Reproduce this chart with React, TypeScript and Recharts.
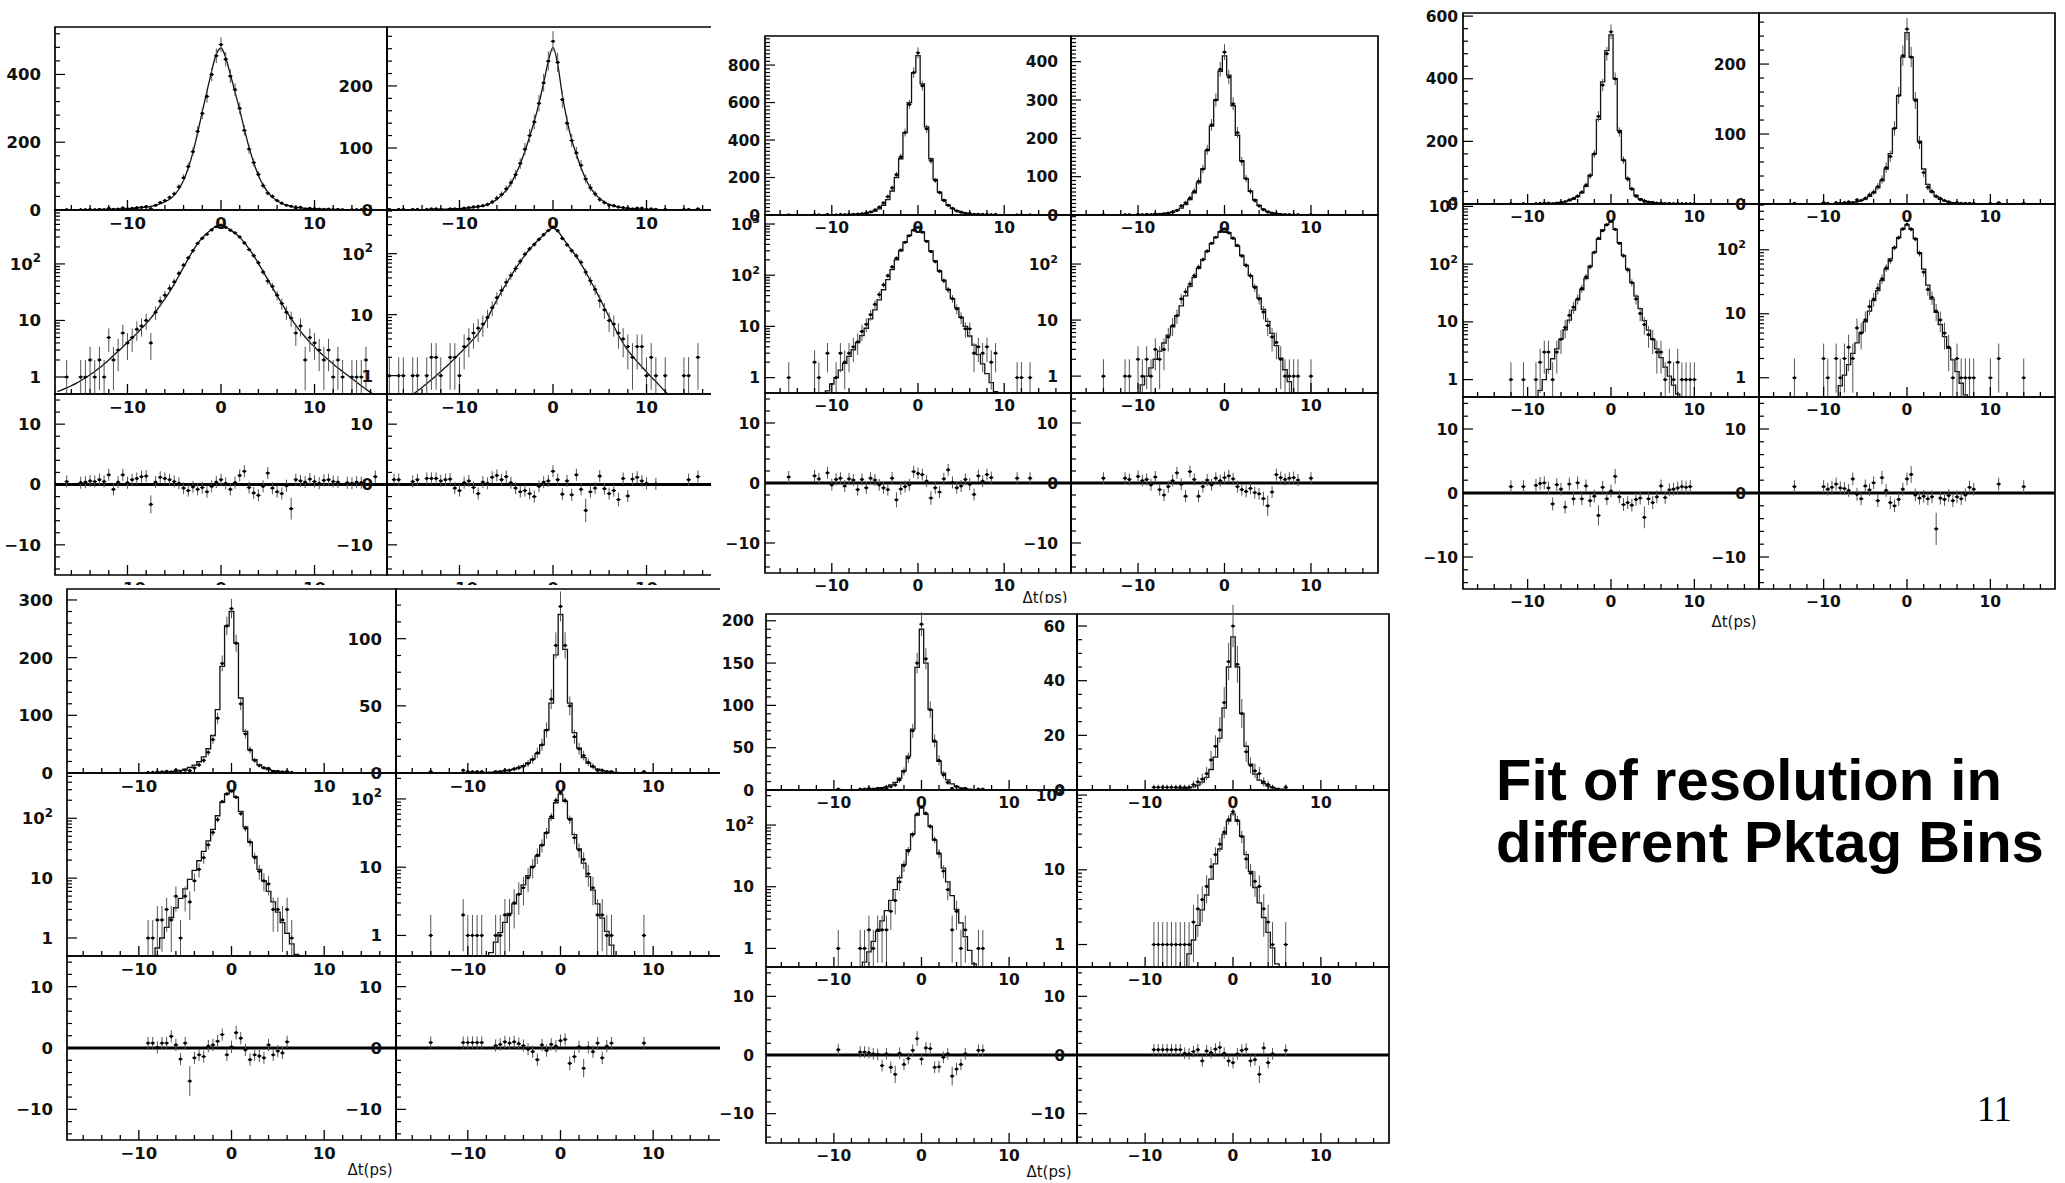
import React from 'react';
import { ComposedChart, Line, Scatter, XAxis, YAxis, ErrorBar, ReferenceLine, ReferenceArea } from 'recharts';

// ---------- bin centres (Δt, ps) ----------
const dtBins = [
  -17.5, -17, -16.5, -16, -15.5, -15, -14.5, -14, -13.5, -13,
  -12.5, -12, -11.5, -11, -10.5, -10, -9.5, -9, -8.5, -8,
  -7.5, -7, -6.5, -6, -5.5, -5, -4.5, -4, -3.5, -3,
  -2.5, -2, -1.5, -1, -0.5, 0, 0.5, 1, 1.5, 2,
  2.5, 3, 3.5, 4, 4.5, 5, 5.5, 6, 6.5, 7,
  7.5, 8, 8.5, 9, 9.5, 10, 10.5, 11, 11.5, 12,
  12.5, 13, 13.5, 14, 14.5, 15, 15.5, 16, 16.5, 17,
  17.5,
];

// ---------- group A ----------
const countsA1 = [
  0, 0, 1, 0, 0, 1, 1, 2, 1, 2,
  1, 5, 2, 3, 6, 4, 5, 7, 8, 10,
  4, 14, 22, 28, 37, 48, 68, 95, 128, 172,
  232, 285, 335, 400, 455, 488, 445, 395, 355, 300,
  235, 180, 140, 105, 72, 50, 40, 28, 20, 14,
  11, 6, 8, 2, 5, 4, 3, 2, 3, 1,
  2, 1, 0, 1, 1, 1, 2, 0, 0, 0,
  0,
];
const fitA1 = [
  0.55, 0.59, 0.64, 0.7, 0.77, 0.86, 0.97, 1.1, 1.25, 1.45,
  1.7, 2.0, 2.4, 2.85, 3.4, 4.1, 4.9, 5.9, 7.2, 8.8,
  11, 14, 18.5, 24, 32, 44, 62, 88, 124, 170,
  228, 290, 350, 410, 460, 478, 450, 400, 348, 295,
  238, 185, 140, 102, 74, 53, 38, 27.5, 20, 14.5,
  10.8, 8.2, 6.4, 5.1, 4.1, 3.4, 2.8, 2.35, 2.0, 1.7,
  1.45, 1.25, 1.08, 0.93, 0.81, 0.7, 0.61, 0.53, 0.46, 0.4,
  0.35,
];
const residA1 = [
  0, 0, 0.5, 0, 0, 0.3, 0.4, 0.6, 0.5, 0.8,
  0.5, 1.6, -0.8, 0.4, 1.6, 0.3, 0.8, 1.0, 1.3, 1.4,
  -3.3, 0.4, 1.2, 1.0, 0.8, 0.5, 0.2, -0.6, -1.0, -0.4,
  -0.8, -0.5, -1.2, -0.3, 0.4, 0.8, 0.2, -0.8, 0.3, 1.5,
  2.2, -0.5, -1.4, -1.8, -0.3, 1.9, -0.6, -1.2, -1.5, -0.2,
  -4.0, 0.8, 0.6, 0.4, 0.9, 0.5, 0.2, 0.7, 0.8, 0.5,
  0.4, 0, 0.3, 0.2, 0.4, 0.3, 0, 0, 1.3, 0,
  0,
];
const countsA2 = [
  1, 0, 1, 1, 0, 1, 1, 0, 1, 2,
  2, 1, 0, 2, 2, 1, 3, 4, 5, 6,
  7, 9, 13, 19, 25, 34, 44, 57, 75, 98,
  120, 142, 172, 205, 240, 272, 238, 178, 140, 112,
  92, 72, 50, 36, 26, 17, 12, 8, 7, 5,
  4, 3, 2, 3, 3, 1, 2, 1, 0, 1,
  0, 0, 0, 1, 1, 0, 2, 0, 0, 0,
  0,
];
const fitA2 = [
  0.25, 0.29, 0.33, 0.38, 0.43, 0.49, 0.56, 0.64, 0.74, 0.86,
  1.0, 1.17, 1.37, 1.62, 1.92, 2.3, 2.75, 3.3, 4.0, 4.9,
  6.5, 8.8, 12.5, 17.5, 24, 32, 43, 57, 74, 95,
  118, 143, 172, 205, 240, 262, 235, 185, 145, 113,
  90, 68, 50, 36, 26, 18.5, 13, 9.2, 6.5, 4.6,
  3.4, 2.6, 2.1, 1.7, 1.4, 1.15, 0.95, 0.8, 0.66, 0.55,
  0.46, 0.38, 0.32, 0.27, 0.23, 0.19, 0.16, 0.13, 0.11, 0.09,
  0.08,
];
const residA2 = [
  0, 0.8, 0.8, 0, 0, 0.5, 0.8, 0, 1.0, 1.0,
  1.0, 0.6, 0.8, 0.9, -0.6, -1.0, 0.3, 0.6, -0.5, -1.5,
  0.4, 0.2, 1.2, 1.5, 0.8, 1.3, 0.3, -0.6, -1.2, -1.0,
  -1.5, -2.0, -0.3, 0.4, 0.6, 2.2, 0.8, -1.6, 0.6, -1.7,
  1.6, -0.8, -4.3, -1.2, -0.6, 1.4, -0.7, -1.5, -1.0, -2.5,
  1.0, -1.9, 0.9, 1.2, 0.6, 0.2, 0, 0.1, 0, 0,
  0, 0, 0, 0, 0.8, 0, 1.3, 0, 0, 0,
  0,
];

// ---------- group B ----------
const countsB1 = [
  0, 0, 0, 0, 0, 1, 0, 0, 0, 0,
  0, 2, 1, 0, 3, 0, 1, 3, 2, 3,
  4, 5, 8, 11, 17, 27, 42, 65, 98, 145,
  215, 310, 440, 590, 760, 865, 690, 460, 290, 185,
  120, 78, 52, 35, 22, 15, 9, 9, 3, 4,
  3, 4, 2, 3, 0, 0, 0, 0, 1, 1,
  0, 1, 0, 0, 0, 0, 0, 0, 0, 0,
  0,
];
const fitB1 = [
  0.01, 0.01, 0.02, 0.02, 0.03, 0.04, 0.05, 0.07, 0.09, 0.12,
  0.16, 0.22, 0.3, 0.4, 0.55, 0.75, 1.0, 1.4, 1.9, 2.6,
  3.5, 4.8, 6.6, 9.2, 14, 21, 33, 52, 82, 128,
  200, 300, 440, 600, 760, 850, 700, 470, 300, 190,
  122, 80, 53, 35, 23, 15, 10, 6.5, 4.3, 2.8,
  1.85, 1.2, 0.8, 0.53, 0.35, 0.23, 0.15, 0.1, 0.07, 0.05,
  0.03, 0.02, 0.015, 0.01, 0.01, 0.01, 0.01, 0.01, 0.01, 0.01,
  0.01,
];
const residB1 = [
  0, 0, 0, 0, 0, 1.0, 0, 0, 0, 0,
  0, 1.2, 0.7, 0, 1.7, -0.3, 0.6, 0.8, -0.5, 0.7,
  0.5, -1.1, 0.6, -0.8, 0.8, 0.5, -0.3, -0.8, -1.1, 0.8,
  -2.8, -1.0, -0.6, -0.3, 1.9, 1.6, 1.4, 0.3, -2.5, -0.8,
  -1.5, 0.7, 2.2, 0.1, -0.8, -0.5, 0.6, -0.2, -1.9, 1.2,
  0.3, 1.4, 0.9, 0, 0, 0, 0, 0, 0.8, 0,
  0, 0.8, 0, 0, 0, 0, 0, 0, 0, 0,
  0,
];
const countsB2 = [
  0, 0, 0, 0, 0, 0, 0, 1, 0, 0,
  0, 0, 1, 1, 0, 2, 1, 2, 1, 3,
  2, 3, 5, 8, 12, 24, 32, 44, 62, 88,
  120, 170, 235, 300, 380, 425, 360, 290, 215, 140,
  95, 62, 38, 24, 14, 8, 5, 4, 2, 1,
  1, 1, 1, 0, 0, 1, 0, 0, 0, 0,
  0, 0, 0, 0, 0, 0, 0, 0, 0, 0,
  0,
];
const fitB2 = [
  0.01, 0.01, 0.01, 0.01, 0.02, 0.02, 0.03, 0.04, 0.05, 0.07,
  0.1, 0.14, 0.19, 0.26, 0.36, 0.5, 0.7, 1.0, 1.4, 2.0,
  2.8, 3.9, 5.4, 7.6, 12, 18, 27, 40, 58, 84,
  120, 168, 232, 300, 375, 415, 365, 285, 208, 142,
  95, 62, 40, 25, 15.5, 9.5, 5.8, 3.5, 2.1, 1.3,
  0.8, 0.5, 0.3, 0.18, 0.11, 0.07, 0.04, 0.03, 0.02, 0.01,
  0.01, 0.01, 0.01, 0.01, 0.01, 0.01, 0.01, 0.01, 0.01, 0.01,
  0.01,
];
const residB2 = [
  0, 0, 0, 0, 0, 0, 0, 0.8, 0, 0,
  0, 0, 0.8, 0.6, 0, 1.1, 0.4, 0.6, -0.3, 1.0,
  -1.1, -2.0, -0.6, 0.4, 1.7, -0.2, -2.2, 1.9, 0.6, -2.2,
  -0.6, 0.5, -0.3, 0.8, 0.4, 0.9, 1.2, 0.7, -0.6, -1.1,
  -1.4, -0.9, -1.6, -1.8, -2.6, -3.8, -1.5, 1.4, 0.9, 0.6,
  0.8, 0.9, 0.5, 0, 0, 0.8, 0, 0, 0, 0,
  0, 0, 0, 0, 0, 0, 0, 0, 0, 0,
  0,
];

// ---------- group C ----------
const countsC1 = [
  0, 0, 0, 0, 0, 0, 0, 0, 0, 0,
  0, 1, 0, 0, 1, 0, 0, 1, 2, 3,
  3, 1, 3, 5, 8, 13, 18, 25, 38, 60,
  90, 160, 280, 380, 480, 550, 400, 230, 140, 80,
  48, 25, 14, 9, 6, 5, 3, 3, 1, 2,
  1, 2, 1, 1, 1, 1, 0, 0, 0, 0,
  0, 0, 0, 0, 0, 0, 0, 0, 0, 0,
  0,
];
const fitC1 = [
  0.01, 0.01, 0.01, 0.01, 0.01, 0.01, 0.01, 0.01, 0.01, 0.01,
  0.02, 0.03, 0.05, 0.08, 0.12, 0.18, 0.28, 0.42, 0.65, 1.0,
  1.5, 2.3, 3.4, 5.0, 7.3, 10.7, 16, 24, 36, 56,
  92, 160, 270, 390, 490, 540, 400, 235, 140, 82,
  48, 28, 17, 10.5, 7.2, 5, 3.4, 2.4, 1.65, 1.15,
  0.8, 0.56, 0.4, 0.28, 0.2, 0.14, 0.1, 0.07, 0.05, 0.03,
  0.02, 0.02, 0.01, 0.01, 0.01, 0.01, 0.01, 0.01, 0.01, 0.01,
  0.01,
];
const residC1 = [
  0, 0, 0, 0, 0, 0, 0, 0, 0, 0,
  0, 1.0, 0, 0, 1.0, 0, 0, 1.2, 1.5, 1.6,
  0.8, -1.7, 1.3, 0.6, -2.2, 1.4, -0.9, 1.6, -0.9, 1.1,
  -1.2, -0.5, -3.5, 0.9, -0.9, 0.3, 2.6, -0.6, -1.8, -1.5,
  -1.9, -1.0, -0.8, -3.8, -0.9, -1.5, -0.6, 1.1, -0.7, 0.5,
  0.6, 0.8, 1.0, 0.9, 1.0, 0, 0, 0, 0, 0,
  0, 0, 0, 0, 0, 0, 0, 0, 0, 0,
  0,
];
const countsC2 = [
  0, 0, 0, 0, 0, 0, 0, 0, 1, 0,
  0, 0, 0, 0, 0, 2, 1, 0, 2, 1,
  2, 3, 2, 6, 5, 8, 13, 17, 25, 35,
  52, 68, 108, 155, 212, 250, 210, 148, 88, 45,
  24, 18, 11, 8, 5, 3, 1, 2, 1, 1,
  1, 1, 0, 0, 0, 1, 0, 2, 0, 0,
  0, 0, 0, 1, 0, 0, 0, 0, 0, 0,
  0,
];
const fitC2 = [
  0.01, 0.01, 0.01, 0.01, 0.01, 0.01, 0.01, 0.01, 0.01, 0.01,
  0.02, 0.03, 0.05, 0.07, 0.1, 0.15, 0.22, 0.33, 0.5, 0.75,
  1.1, 1.6, 2.4, 3.5, 5.1, 7.5, 11, 16, 23, 33,
  50, 72, 108, 155, 210, 245, 210, 150, 90, 50,
  28, 17, 10.5, 6.8, 4.4, 2.9, 1.9, 1.25, 0.82, 0.54,
  0.36, 0.24, 0.16, 0.1, 0.07, 0.05, 0.03, 0.02, 0.01, 0.01,
  0.01, 0.01, 0.01, 0.01, 0.01, 0.01, 0.01, 0.01, 0.01, 0.01,
  0.01,
];
const residC2 = [
  0, 0, 0, 0, 0, 0, 0, 0, 1.0, 0,
  0, 0, 0, 0, 0, 1.0, 0.6, 0.9, 1.4, 0.8,
  0.7, 0.4, 2.2, -0.2, -0.9, 1.1, 0.5, 1.6, -1.2, 2.4,
  0.4, -1.5, -2.0, -1.0, 0.6, 2.2, 2.9, -0.3, -0.8, -0.5,
  -0.9, -0.6, -5.6, -0.8, -1.0, -0.4, -1.2, -0.6, -0.9, -0.3,
  0.9, 0.6, 0, 0, 0, 0, 0, 1.4, 0, 0,
  0, 0, 0, 1.0, 0, 0, 0, 0, 0, 0,
  0,
];

// ---------- group D ----------
const countsD1 = [
  0, 0, 0, 0, 0, 0, 0, 0, 0, 0,
  0, 0, 0, 0, 0, 0, 0, 1, 1, 2,
  2, 3, 2, 5, 1, 5, 4, 9, 14, 22,
  36, 58, 95, 190, 255, 285, 225, 120, 68, 40,
  22, 13, 9, 8, 3, 3, 2, 3, 1, 0,
  0, 0, 0, 0, 0, 0, 0, 0, 0, 0,
  0, 0, 0, 0, 0, 0, 0, 0, 0, 0,
  0,
];
const fitD1 = [
  0.01, 0.01, 0.01, 0.01, 0.01, 0.01, 0.01, 0.01, 0.01, 0.01,
  0.02, 0.03, 0.04, 0.06, 0.09, 0.13, 0.2, 0.3, 0.45, 0.68,
  1.0, 1.5, 2.2, 3.2, 4.6, 6.6, 9.5, 13.5, 19.5, 28,
  42, 65, 110, 185, 255, 280, 225, 130, 72, 40,
  23, 14, 9, 6, 4, 2.7, 1.8, 1.2, 0.8, 0.53,
  0.35, 0.23, 0.15, 0.1, 0.07, 0.05, 0.03, 0.02, 0.01, 0.01,
  0.01, 0.01, 0.01, 0.01, 0.01, 0.01, 0.01, 0.01, 0.01, 0.01,
  0.01,
];
const residD1 = [
  0, 0, 0, 0, 0, 0, 0, 0, 0, 0,
  0, 0, 0, 0, 0, 0, 0, 0.8, 0.8, 0.1,
  0.8, 0.8, 1.9, 0.5, -1.8, 0.8, -5.4, -1.6, -1.1, -1.4,
  0.3, 0.5, 1.1, 2.2, -1.1, 0.2, 2.5, 1.6, -0.3, -1.9,
  -1.1, -1.3, -1.6, 0.5, -1.1, -0.5, -0.8, 1.0, 0, 0,
  0, 0, 0, 0, 0, 0, 0, 0, 0, 0,
  0, 0, 0, 0, 0, 0, 0, 0, 0, 0,
  0,
];
const countsD2 = [
  0, 0, 0, 0, 0, 0, 0, 1, 0, 0,
  0, 0, 0, 0, 2, 1, 1, 1, 1, 0,
  0, 1, 1, 2, 2, 3, 4, 5, 7, 10,
  15, 21, 32, 55, 95, 124, 95, 50, 27, 18,
  13, 8, 5, 2, 2, 1, 1, 0, 0, 0,
  0, 0, 0, 1, 0, 0, 0, 0, 0, 0,
  0, 0, 0, 0, 0, 0, 0, 0, 0, 0,
  0,
];
const fitD2 = [
  0.01, 0.01, 0.01, 0.01, 0.01, 0.01, 0.01, 0.01, 0.01, 0.01,
  0.02, 0.03, 0.04, 0.05, 0.07, 0.1, 0.14, 0.2, 0.28, 0.4,
  0.56, 0.8, 1.1, 1.55, 2.1, 2.9, 4.0, 5.5, 7.5, 10.3,
  14.5, 21, 32, 52, 88, 118, 92, 52, 30, 18.5,
  11.5, 7.3, 4.6, 2.9, 1.8, 1.15, 0.72, 0.45, 0.28, 0.18,
  0.11, 0.07, 0.05, 0.03, 0.02, 0.01, 0.01, 0.01, 0.01, 0.01,
  0.01, 0.01, 0.01, 0.01, 0.01, 0.01, 0.01, 0.01, 0.01, 0.01,
  0.01,
];
const residD2 = [
  0, 0, 0, 0, 0, 0, 0, 0.9, 0, 0,
  0, 0, 0, 0, 0.9, 0.9, 0.9, 0.9, 0.9, 0,
  0, 0.4, 0.6, 1.0, 0.8, 1.0, 0.7, 0.4, -0.2, -0.6,
  -1.9, 0.5, -0.4, 0.6, 0.3, 1.2, 1.4, -2.5, -1.4, 0.2,
  -3.3, 0.1, -0.6, 0.8, -1.6, 0.3, 0.8, 0, 0, 0,
  0, 0, 0, 0.8, 0, 0, 0, 0, 0, 0,
  0, 0, 0, 0, 0, 0, 0, 0, 0, 0,
  0,
];

// ---------- group E ----------
const countsE1 = [
  0, 0, 0, 0, 0, 0, 0, 0, 0, 0,
  0, 0, 0, 0, 0, 0, 1, 0, 0, 0,
  0, 1, 1, 2, 1, 2, 2, 2, 4, 6,
  12, 22, 38, 70, 150, 196, 155, 95, 58, 35,
  18, 9, 2, 4, 1, 2, 0, 0, 1, 1,
  0, 0, 0, 0, 0, 0, 0, 0, 0, 0,
  0, 0, 0, 0, 0, 0, 0, 0, 0, 0,
  0,
];
const fitE1 = [
  0.01, 0.01, 0.01, 0.01, 0.01, 0.01, 0.01, 0.01, 0.01, 0.01,
  0.01, 0.01, 0.02, 0.02, 0.03, 0.04, 0.06, 0.09, 0.13, 0.19,
  0.28, 0.41, 0.6, 0.88, 1.3, 1.9, 2.8, 4.1, 6.0, 9.0,
  14, 23, 40, 72, 145, 190, 150, 95, 57, 34,
  20, 12, 7.2, 4.3, 2.6, 1.55, 0.93, 0.56, 0.34, 0.2,
  0.12, 0.07, 0.04, 0.03, 0.02, 0.01, 0.01, 0.01, 0.01, 0.01,
  0.01, 0.01, 0.01, 0.01, 0.01, 0.01, 0.01, 0.01, 0.01, 0.01,
  0.01,
];
const residE1 = [
  0, 0, 0, 0, 0, 0, 0, 0, 0, 0,
  0, 0, 0, 0, 0, 0, 0.9, 0, 0, 0,
  0, 0.5, 0.5, 0.4, 0.2, 0.1, -1.8, 0.2, -2.1, -3.3,
  0.3, -1.6, -0.6, 0.8, 2.8, -0.7, 1.2, 1.1, -2.1, -2.0,
  -0.4, 0.2, -3.6, -2.4, -1.6, 0.2, 0, 0, 0.8, 0.8,
  0, 0, 0, 0, 0, 0, 0, 0, 0, 0,
  0, 0, 0, 0, 0, 0, 0, 0, 0, 0,
  0,
];
const countsE2 = [
  0, 0, 0, 0, 0, 0, 0, 0, 0, 0,
  0, 0, 0, 0, 0, 0, 0, 1, 1, 1,
  1, 1, 1, 1, 1, 1, 2, 3, 4, 6,
  11, 16, 22, 32, 47, 60, 46, 28, 14, 9,
  7, 6, 3, 2, 1, 0, 0, 1, 0, 0,
  0, 0, 0, 0, 0, 0, 0, 0, 0, 0,
  0, 0, 0, 0, 0, 0, 0, 0, 0, 0,
  0,
];
const fitE2 = [
  0.01, 0.01, 0.01, 0.01, 0.01, 0.01, 0.01, 0.01, 0.01, 0.01,
  0.01, 0.01, 0.01, 0.01, 0.02, 0.02, 0.03, 0.04, 0.06, 0.08,
  0.1, 0.14, 0.2, 0.3, 0.48, 0.75, 1.15, 1.8, 2.9, 4.6,
  7.5, 12, 19, 30, 45, 56, 45, 28, 16, 9.5,
  5.8, 3.6, 2.3, 1.45, 0.9, 0.55, 0.35, 0.22, 0.14, 0.09,
  0.06, 0.04, 0.02, 0.01, 0.01, 0.01, 0.01, 0.01, 0.01, 0.01,
  0.01, 0.01, 0.01, 0.01, 0.01, 0.01, 0.01, 0.01, 0.01, 0.01,
  0.01,
];
const residE2 = [
  0, 0, 0, 0, 0, 0, 0, 0, 0, 0,
  0, 0, 0, 0, 0, 0, 0, 0.9, 0.9, 0.9,
  0.9, 0.9, 0.9, 0.9, 0.3, 0.2, 0.6, 0.9, -1.0, 0.7,
  0.4, 1.0, 1.3, 0.3, -1.0, -1.3, 0.2, 0.8, 1.0, -1.0,
  -0.8, -3.3, 1.2, -1.3, 0.2, 0, 0, 0.8, 0, 0,
  0, 0, 0, 0, 0, 0, 0, 0, 0, 0,
  0, 0, 0, 0, 0, 0, 0, 0, 0, 0,
  0,
];

// ---------- axes ----------
const X_DOMAIN: [number, number] = [-17.75, 17.75];
const xTickValues = [-16, -14, -12, -10, -8, -6, -4, -2, 0, 2, 4, 6, 8, 10, 12, 14, 16];
const xTickLabels = [-10, 0, 10];
const RESID_DOMAIN: [number, number] = [-15, 15];
const residTickValues = [-14, -12, -10, -8, -6, -4, -2, 0, 2, 4, 6, 8, 10, 12, 14];
const residTickLabels = [-10, 0, 10];
const logDecades = [1, 10, 100, 1000];
const LOG_MIN = 0.5;

const yLabelsA1 = [0, 200, 400];
const yLabelsA2 = [0, 100, 200];
const yLabelsB1 = [0, 200, 400, 600, 800];
const yLabelsB2 = [0, 100, 200, 300, 400];
const yLabelsC1 = [0, 200, 400, 600];
const yLabelsC2 = [0, 100, 200];
const yLabelsD1 = [0, 100, 200, 300];
const yLabelsD2 = [0, 50, 100];
const yLabelsE1 = [0, 50, 100, 150, 200];
const yLabelsE2 = [0, 20, 40, 60];

type Hist = {
  counts: number[]; fit: number[]; resid: number[];
  linMax: number; linLabels: number[]; linMinor: number; logMax: number;
};

const hA1: Hist = { counts: countsA1, fit: fitA1, resid: residA1, linMax: 540, linLabels: yLabelsA1, linMinor: 40, logMax: 900 };
const hA2: Hist = { counts: countsA2, fit: fitA2, resid: residA2, linMax: 295, linLabels: yLabelsA2, linMinor: 20, logMax: 520 };
const hB1: Hist = { counts: countsB1, fit: fitB1, resid: residB1, linMax: 955, linLabels: yLabelsB1, linMinor: 20, logMax: 1500 };
const hB2: Hist = { counts: countsB2, fit: fitB2, resid: residB2, linMax: 467, linLabels: yLabelsB2, linMinor: 10, logMax: 750 };
const hC1: Hist = { counts: countsC1, fit: fitC1, resid: residC1, linMax: 610, linLabels: yLabelsC1, linMinor: 40, logMax: 1100 };
const hC2: Hist = { counts: countsC2, fit: fitC2, resid: residC2, linMax: 273, linLabels: yLabelsC2, linMinor: 20, logMax: 520 };
const hD1: Hist = { counts: countsD1, fit: fitD1, resid: residD1, linMax: 319, linLabels: yLabelsD1, linMinor: 20, logMax: 570 };
const hD2: Hist = { counts: countsD2, fit: fitD2, resid: residD2, linMax: 137, linLabels: yLabelsD2, linMinor: 12.5, logMax: 240 };
const hE1: Hist = { counts: countsE1, fit: fitE1, resid: residE1, linMax: 208, linLabels: yLabelsE1, linMinor: 10, logMax: 370 };
const hE2: Hist = { counts: countsE2, fit: fitE2, resid: residE2, linMax: 64.4, linLabels: yLabelsE2, linMinor: 5, logMax: 117 };

type Group = {
  key: string; box: [number, number, number, number]; z: number;
  cols: [number, number][]; rows: [number, number][];
  font: number; gaps: number[]; smooth: boolean; hists: Hist[]; dt: [number, number] | null;
};

const groups: Group[] = [
  { key: 'A', box: [0, 10, 711, 575], z: 1, cols: [[55, 387], [387, 719]], rows: [[27, 210], [210, 394], [394, 575]], font: 16.5, gaps: [14, 14], smooth: true, hists: [hA1, hA2], dt: null },
  { key: 'B', box: [711, 18, 685, 590], z: 2, cols: [[765, 1071], [1071, 1378]], rows: [[36, 215], [215, 393], [393, 573]], font: 15.5, gaps: [5, 13], smooth: false, hists: [hB1, hB2], dt: [1045, 598] },
  { key: 'C', box: [1412, 0, 653, 640], z: 2, cols: [[1463, 1759], [1759, 2055]], rows: [[13, 204], [204, 397], [397, 589]], font: 15.5, gaps: [5, 13], smooth: false, hists: [hC1, hC2], dt: [1734, 622] },
  { key: 'D', box: [0, 585, 720, 598], z: 3, cols: [[67, 396], [396, 725]], rows: [[589, 773], [773, 956], [956, 1140]], font: 16.5, gaps: [14, 14], smooth: false, hists: [hD1, hD2], dt: [370, 1170] },
  { key: 'E', box: [720, 603, 680, 580], z: 4, cols: [[766, 1077], [1077, 1389]], rows: [[614, 790], [790, 967], [967, 1143]], font: 15.5, gaps: [12, 12], smooth: false, hists: [hE1, hE2], dt: [1049, 1172] },
];

const TICK_FONT = 'DejaVu Sans, Verdana, sans-serif';
// chart margins; axes get a 1px box so that Recharts draws their ticks
const M = { top: 14, right: 14, bottom: 36, left: 72 };
const AX = 1;

const fmtSigned = (v: number) => (v < 0 ? '\u2212' + Math.abs(v) : String(v));

const dotShape = (p: any) => {
  if (!Number.isFinite(p.cx) || !Number.isFinite(p.cy)) return <g />;
  return (
    <g>
      <line x1={p.cx - 2.2} x2={p.cx + 2.2} y1={p.cy} y2={p.cy} stroke="#000" strokeWidth={1} />
      <circle cx={p.cx} cy={p.cy} r={1.6} fill="#000" />
    </g>
  );
};

function Panel({ x0, y0, w, h, mode, hist, smooth, font, gap }: any) {
  let domain: [number, number];
  let ticks: number[] = [];
  let isMajor: (v: number) => boolean;
  let label: (v: number) => React.ReactNode;
  let scale: any = 'linear';
  if (mode === 'lin') {
    domain = [0, hist.linMax];
    for (let v = 0; v <= hist.linMax + 1e-6; v += hist.linMinor) ticks.push(Math.round(v * 1000) / 1000);
    isMajor = (v) => hist.linLabels.includes(v);
    label = (v) => String(v);
  } else if (mode === 'log') {
    domain = [LOG_MIN, hist.logMax];
    scale = 'log';
    for (const d of logDecades) for (let k = 1; k <= 9; k++) { const v = k * d; if (v >= LOG_MIN && v <= hist.logMax) ticks.push(v); }
    isMajor = (v) => logDecades.includes(v);
    label = (v) => (v === 1 ? '1' : v === 10 ? '10' : (
      <>10<tspan dy={-font * 0.45} fontSize={font * 0.72}>{v === 100 ? '2' : '3'}</tspan></>
    ));
  } else {
    domain = RESID_DOMAIN;
    ticks = residTickValues;
    isMajor = (v) => residTickLabels.includes(v);
    label = (v) => fmtSigned(v);
  }

  const lineData = dtBins.map((x, i) => ({ x, f: hist.fit[i] }));
  let pts: any[];
  if (mode === 'res') {
    pts = dtBins
      .map((x, i) => ({ x, c: hist.resid[i], e: Math.max(1, Math.abs(hist.resid[i]) * 0.45) }))
      .filter((p) => p.c !== 0);
  } else {
    pts = dtBins
      .map((x, i) => {
        const c = hist.counts[i];
        const s = Math.sqrt(c);
        const lo = mode === 'log' ? Math.max(c - s, LOG_MIN) : c - s;
        return { x, c, e: [c - lo, s] };
      })
      .filter((p) => p.c > 0);
  }

  const textProps = { fontSize: font, fontFamily: TICK_FONT, fontWeight: 'bold' as const, fill: '#111' };

  const xTick = (p: any) => {
    const v = p.payload.value;
    const major = xTickLabels.includes(v);
    return (
      <g>
        <line x1={p.x} x2={p.x} y1={p.y} y2={p.y - (major ? 10 : 5)} stroke="#000" strokeWidth={1.3} />
        {major ? (
          <text x={p.x} y={p.y + font + 2} textAnchor="middle" {...textProps}>{fmtSigned(v)}</text>
        ) : null}
      </g>
    );
  };
  const yTick = (p: any) => {
    const v = p.payload.value;
    const major = isMajor(v);
    return (
      <g>
        <line x1={p.x} x2={p.x + (major ? 10 : 5)} y1={p.y} y2={p.y} stroke="#000" strokeWidth={1.2} />
        {major ? (
          <text x={p.x - gap} y={p.y + font * 0.36} textAnchor="end" {...textProps}>{label(v)}</text>
        ) : null}
      </g>
    );
  };

  return (
    <div style={{ position: 'absolute', left: x0 - M.left - AX, top: y0 - M.top }}>
      <ComposedChart width={w + M.left + M.right + AX} height={h + M.top + M.bottom + AX} data={lineData} margin={M}>
        <XAxis type="number" dataKey="x" domain={X_DOMAIN} allowDataOverflow ticks={xTickValues} interval={0}
          height={AX} tickLine={false} axisLine={false} tickSize={0} tickMargin={0} tick={xTick} />
        <YAxis type="number" scale={scale} domain={domain} allowDataOverflow ticks={ticks} interval={0}
          width={AX} tickLine={false} axisLine={false} tickSize={0} tickMargin={0} tick={yTick} />
        <ReferenceArea x1={X_DOMAIN[0]} x2={X_DOMAIN[1]} y1={domain[0]} y2={domain[1]} fill="none" fillOpacity={0}
          stroke="#000" strokeWidth={1.7} ifOverflow="visible" />
        {mode === 'res' ? <ReferenceLine y={0} stroke="#000" strokeWidth={3} /> : null}
        {mode !== 'res' ? (
          <Line type={smooth ? 'monotone' : 'step'} dataKey="f" stroke="#111" strokeWidth={1.3} dot={false}
            activeDot={false} isAnimationActive={false} />
        ) : null}
        <Scatter data={pts} dataKey="c" shape={dotShape} isAnimationActive={false}>
          <ErrorBar dataKey="e" direction="y" width={0} stroke="#555" strokeWidth={1} isAnimationActive={false} />
        </Scatter>
      </ComposedChart>
    </div>
  );
}

function GroupView({ g }: { g: Group }) {
  const [bl, bt, bw, bh] = g.box;
  const modes = ['lin', 'log', 'res'];
  return (
    <div style={{ position: 'absolute', left: bl, top: bt, width: bw, height: bh, background: '#fff', zIndex: g.z, overflow: 'hidden' }}>
      {g.hists.map((hist, ci) =>
        modes.map((mode, ri) => (
          <Panel key={g.key + ci + mode}
            x0={g.cols[ci][0] - bl} y0={g.rows[ri][0] - bt}
            w={g.cols[ci][1] - g.cols[ci][0]} h={g.rows[ri][1] - g.rows[ri][0]}
            mode={mode} hist={hist} smooth={g.smooth} font={g.font} gap={g.gaps[ci]} />
        ))
      )}
      {g.dt ? (
        <div style={{ position: 'absolute', left: g.dt[0] - bl - 50, top: g.dt[1] - bt - 9, width: 100, textAlign: 'center',
          fontFamily: TICK_FONT, fontSize: 15, lineHeight: '18px', color: '#111' }}>Δt(ps)</div>
      ) : null}
    </div>
  );
}

export default function App() {
  return (
    <div style={{ position: 'absolute', left: 0, top: 0, width: 2065, height: 1183, background: '#fff', overflow: 'hidden' }}>
      {groups.map((g) => <GroupView key={g.key} g={g} />)}
      <svg width={620} height={480} style={{ position: 'absolute', left: 1445, top: 700, zIndex: 10 }}>
        <text x={51} y={100} fontFamily="Liberation Sans, Arial, sans-serif" fontWeight="bold" fontSize={58} fill="#000">Fit of resolution in</text>
        <text x={51} y={162} fontFamily="Liberation Sans, Arial, sans-serif" fontWeight="bold" fontSize={58} fill="#000">different Pktag Bins</text>
        <text x={532} y={421} fontFamily="Liberation Serif, Times New Roman, serif" fontSize={36} fill="#000">11</text>
      </svg>
    </div>
  );
}
